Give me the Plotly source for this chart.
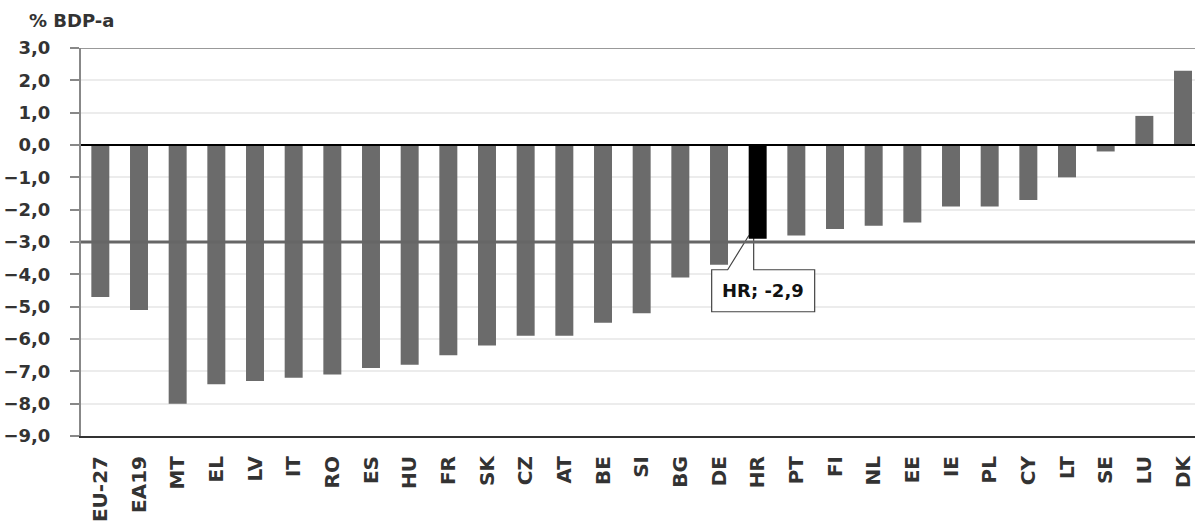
import plotly.graph_objects as go

categories = ["EU-27", "EA19", "MT", "EL", "LV", "IT", "RO", "ES", "HU", "FR", "SK", "CZ", "AT",
              "BE", "SI", "BG", "DE", "HR", "PT", "FI", "NL", "EE", "IE", "PL", "CY", "LT", "SE", "LU", "DK"]
values = [-4.7, -5.1, -8.0, -7.4, -7.3, -7.2, -7.1, -6.9, -6.8, -6.5, -6.2, -5.9, -5.9,
          -5.5, -5.2, -4.1, -3.7, -2.9, -2.8, -2.6, -2.5, -2.4, -1.9, -1.9, -1.7, -1.0, -0.2, 0.9, 2.3]
highlight = "HR"
threshold = -3.0
y_ticks = [3, 2, 1, 0, -1, -2, -3, -4, -5, -6, -7, -8, -9]
y_title = "% BDP-a"

colors = ["#000000" if c == highlight else "#6b6b6b" for c in categories]
FONT = "DejaVu Sans"
txt_col = "#333333"

fig = go.Figure(go.Bar(x=categories, y=values, marker=dict(color=colors, line=dict(width=0)),
                       width=0.465))

hv = values[categories.index(highlight)]

# callout box (pixel-sized, anchored on the highlighted bar's value)
fig.add_shape(type="path", xref="x", yref="y", xsizemode="pixel", ysizemode="pixel",
              xanchor=highlight, yanchor=hv,
              path="M -46,-31 L -30,-31 L -9,3 L -4,3 L -4,-31 L 57,-31 L 57,-73 L -46,-73 Z",
              line=dict(color="#444444", width=1.2), fillcolor="white", layer="between")
fig.add_annotation(x=highlight, y=hv, text=f"{highlight}; {hv:.1f}".replace(".", ","),
                   showarrow=False, xshift=5.5, yshift=-52,
                   font=dict(family=FONT, size=18, color="#111", weight="bold"))

fig.add_hline(y=threshold, line=dict(color="#666666", width=3), layer="above")
fig.add_hline(y=0, line=dict(color="#000000", width=2), layer="above")
fig.add_hline(y=3, line=dict(color="#777777", width=1.5), layer="above")

fig.add_annotation(xref="paper", yref="paper", x=-0.0485, y=1.0, yshift=15, xanchor="left",
                   yanchor="bottom", text=y_title, showarrow=False,
                   font=dict(family=FONT, size=18, color=txt_col, weight="bold"))

fig.update_layout(
    width=1195, height=525,
    margin=dict(l=81, r=0, t=48, b=89),
    plot_bgcolor="white", paper_bgcolor="white",
    separators=",.",
    showlegend=False,
    xaxis=dict(range=[-0.5, 28.31], tickangle=-90, showgrid=False, ticks="",
               showline=True, linecolor="#333333", linewidth=2, automargin=False,
               ticklabelstandoff=10,
               tickfont=dict(family=FONT, size=20, color=txt_col, weight="bold")),
    yaxis=dict(range=[-9, 3], tickvals=y_ticks, tickformat=".1f", showgrid=True,
               gridcolor="#ececec", gridwidth=1.5, zeroline=False,
               ticks="outside", ticklen=9, tickcolor="#888888", tickwidth=1.5,
               showline=True, linecolor="#888888", linewidth=2, automargin=False,
               ticklabelstandoff=16,
               tickfont=dict(family=FONT, size=18, color=txt_col, weight="bold")),
)

fig.write_html("out.html", config={"displayModeBar": False},
               post_script="document.body.style.margin='0';document.body.style.overflow='hidden';")
